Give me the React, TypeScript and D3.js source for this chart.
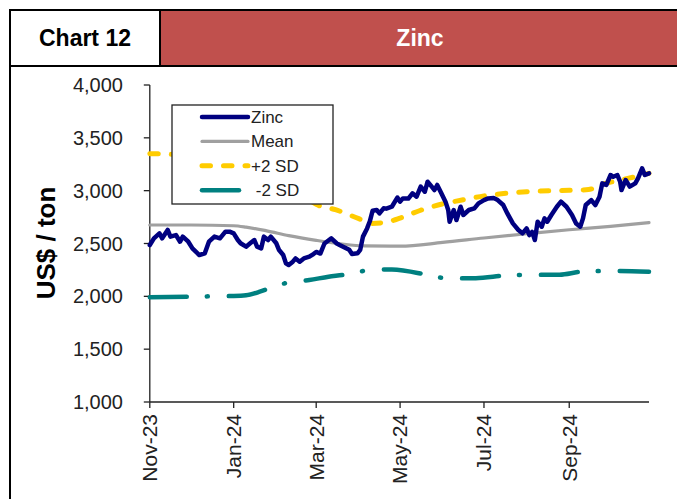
import React from "react";
import * as d3 from "d3";

const zincDates = [
  "2023-11-01","2023-11-04","2023-11-08","2023-11-10","2023-11-14","2023-11-16","2023-11-20","2023-11-23","2023-11-25","2023-11-29",
  "2023-12-02","2023-12-07","2023-12-11","2023-12-14","2023-12-18","2023-12-22","2023-12-26","2023-12-29",
  "2024-01-01","2024-01-04","2024-01-06","2024-01-10","2024-01-13","2024-01-16","2024-01-18","2024-01-21","2024-01-23","2024-01-26","2024-01-28",
  "2024-02-01","2024-02-03","2024-02-06","2024-02-08","2024-02-10","2024-02-13","2024-02-15","2024-02-18","2024-02-21","2024-02-25","2024-02-28",
  "2024-03-01","2024-03-04","2024-03-07","2024-03-12","2024-03-16","2024-03-18","2024-03-22","2024-03-25","2024-03-27","2024-03-31",
  "2024-04-02","2024-04-04","2024-04-07","2024-04-09","2024-04-11","2024-04-14","2024-04-16","2024-04-19","2024-04-21","2024-04-25","2024-04-29",
  "2024-05-01","2024-05-03","2024-05-07","2024-05-10","2024-05-13","2024-05-16","2024-05-19","2024-05-21","2024-05-24","2024-05-26","2024-05-28","2024-05-31",
  "2024-06-03","2024-06-05","2024-06-06","2024-06-09","2024-06-11","2024-06-14","2024-06-16","2024-06-20","2024-06-24","2024-06-27",
  "2024-07-01","2024-07-04","2024-07-08","2024-07-11","2024-07-15","2024-07-18","2024-07-22","2024-07-26","2024-07-29",
  "2024-08-01","2024-08-03","2024-08-05","2024-08-07","2024-08-09","2024-08-12","2024-08-14","2024-08-16","2024-08-19","2024-08-23","2024-08-26","2024-08-30",
  "2024-09-03","2024-09-06","2024-09-09","2024-09-11","2024-09-13","2024-09-17","2024-09-20","2024-09-23","2024-09-25","2024-09-28",
  "2024-10-01","2024-10-03","2024-10-06","2024-10-08","2024-10-09","2024-10-12","2024-10-15","2024-10-19","2024-10-21","2024-10-24","2024-10-26","2024-10-29",
];
const zincValues = [
  2486,2549,2596,2549,2628,2565,2580,2517,2565,2517,
  2454,2391,2407,2517,2565,2549,2612,2612,
  2596,2533,2502,2470,2502,2533,2470,2454,2565,2533,2565,
  2502,2438,2391,2312,2296,2328,2359,2328,2359,2375,2400,
  2420,2405,2500,2549,2500,2486,2460,2440,2400,2407,
  2440,2565,2643,2710,2810,2817,2785,2833,2830,2848,2935,
  2896,2927,2925,2975,2943,3038,2990,3085,3038,3006,3054,2975,
  2896,2817,2706,2817,2722,2848,2770,2817,2833,2880,
  2911,2927,2930,2911,2864,2785,2690,2628,2596,
  2643,2580,2610,2533,2706,2659,2738,2706,2770,2848,2896,2848,
  2770,2690,2659,2738,2864,2911,2864,2943,3069,3054,
  3148,3132,3148,3085,3006,3101,3038,3069,3117,3211,3148,3164,
];

const meanDates = ["2023-11-01","2023-12-01","2024-01-01","2024-01-10","2024-01-25","2024-02-10","2024-03-01","2024-03-20","2024-04-05","2024-05-01","2024-06-01","2024-07-01","2024-08-01","2024-09-01","2024-10-01","2024-10-29"];
const meanValues = [2675,2675,2668,2655,2620,2575,2530,2495,2478,2475,2510,2552,2592,2630,2662,2697];

const upperDates = ["2023-11-01","2023-11-15","2023-12-01","2024-01-01","2024-02-01","2024-02-20","2024-03-01","2024-03-15","2024-04-01","2024-04-10","2024-04-22","2024-05-01","2024-05-15","2024-06-01","2024-06-15","2024-07-01","2024-08-01","2024-09-01","2024-09-15","2024-09-25","2024-10-10","2024-10-29"];
const upperValues = [3350,3345,3330,3250,3100,2960,2870,2820,2735,2690,2705,2740,2810,2875,2911,2950,2990,3003,3010,3060,3105,3164];

const lowerDates = ["2023-11-01","2023-12-01","2023-12-15","2024-01-01","2024-01-10","2024-01-20","2024-01-27","2024-02-10","2024-02-25","2024-03-10","2024-03-20","2024-04-10","2024-04-25","2024-05-15","2024-05-25","2024-06-10","2024-06-25","2024-07-20","2024-08-10","2024-08-25","2024-09-10","2024-10-01","2024-10-29"];
const lowerValues = [1991,1997,2000,2003,2010,2044,2076,2132,2154,2186,2202,2249,2255,2218,2186,2170,2172,2200,2203,2205,2233,2240,2233];

const xTickDates = ["2023-11-01","2024-01-01","2024-03-01","2024-05-01","2024-07-01","2024-09-01"];
const xTickLabels = ["Nov-23","Jan-24","Mar-24","May-24","Jul-24","Sep-24"];
const yTicks = [1000,1500,2000,2500,3000,3500,4000];

const legendLabels = ["Zinc","Mean","+2 SD","\u00a0-2 SD"];

const parse = d3.timeParse("%Y-%m-%d");
const FONT = "'Liberation Sans', Arial, sans-serif";

function pts(dates: string[], values: number[]) {
  return dates.map((d, i) => ({ d: parse(d) as Date, v: values[i] })).filter((p) => p.v != null);
}

export default function App() {
  const W = 677, H = 499;
  const x = d3.scaleTime()
    .domain([parse("2023-11-01") as Date, parse("2024-10-29") as Date])
    .range([149.8, 649]);
  const y = d3.scaleLinear().domain([1000, 4000]).range([402, 85]);

  const line = d3.line<{ d: Date; v: number }>().x((p) => x(p.d)).y((p) => y(p.v));
  const smooth = d3.line<{ d: Date; v: number }>().x((p) => x(p.d)).y((p) => y(p.v)).curve(d3.curveMonotoneX);

  const series = [
    { name: "zinc", path: line(pts(zincDates, zincValues)), color: "#000080", width: 4.5, dash: undefined as string | undefined, cap: "round" },
    { name: "mean", path: smooth(pts(meanDates, meanValues)), color: "#A0A0A0", width: 3.2, dash: undefined, cap: "round" },
    { name: "upper", path: smooth(pts(upperDates, upperValues)), color: "#FFCC00", width: 5, dash: "8.5 13", cap: "round" },
    { name: "lower", path: smooth(pts(lowerDates, lowerValues)), color: "#008080", width: 4.5, dash: "37 20 1 21", cap: "round" },
  ];

  const legendStyles = [
    { color: "#000080", width: 4.5, dash: undefined as string | undefined },
    { color: "#A0A0A0", width: 3.2, dash: undefined },
    { color: "#FFCC00", width: 5, dash: "8.5 13" },
    { color: "#008080", width: 4.5, dash: "37 20 1 21" },
  ];

  const x0 = x.range()[0], x1 = x.range()[1];
  const yb = y(1000), yt = y(4000);

  return (
    <svg width={W} height={H} style={{ position: "absolute", left: 0, top: 0, background: "#fff" }} fontFamily={FONT}>
      {/* header */}
      <rect x={160} y={10} width={W - 160} height={56} fill="#C0504D" />
      <line x1={9} x2={W} y1={10} y2={10} stroke="#000" strokeWidth={2} />
      <line x1={9} x2={W} y1={66} y2={66} stroke="#000" strokeWidth={2} />
      <line x1={10} x2={10} y1={9} y2={H} stroke="#000" strokeWidth={2} />
      <line x1={160} x2={160} y1={10} y2={66} stroke="#000" strokeWidth={2} />
      <text x={85} y={46} textAnchor="middle" fontSize={23} fontWeight="bold" fill="#000">Chart 12</text>
      <text x={420} y={46} textAnchor="middle" fontSize={23} fontWeight="bold" fill="#fff">Zinc</text>

      {/* axes */}
      <line x1={x0} x2={x0} y1={yt} y2={yb} stroke="#222" strokeWidth={1.3} />
      <line x1={x0} x2={x1} y1={yb} y2={yb} stroke="#222" strokeWidth={1.3} />
      {yTicks.map((t) => (
        <g key={t}>
          <line x1={x0 - 6} x2={x0} y1={y(t)} y2={y(t)} stroke="#222" strokeWidth={1.3} />
          <text x={123} y={y(t)} dy="0.35em" textAnchor="end" fontSize={20} fill="#222">{d3.format(",")(t)}</text>
        </g>
      ))}
      {xTickDates.map((d, i) => {
        const px = x(parse(d) as Date);
        return (
          <g key={d}>
            <line x1={px} x2={px} y1={yb} y2={yb + 6} stroke="#222" strokeWidth={1.3} />
            <text transform={`translate(${px},${yb + 12}) rotate(-90)`} dy="0.35em" textAnchor="end" fontSize={21} fill="#222">{xTickLabels[i]}</text>
          </g>
        );
      })}
      <text transform={`translate(46,243) rotate(-90)`} dy="0.35em" textAnchor="middle" fontSize={26} fontWeight="bold" fill="#000">US$ / ton</text>

      {/* series */}
      {[...series].reverse().map((s) => (
        <path key={s.name} d={s.path || ""} fill="none" stroke={s.color} strokeWidth={s.width} strokeDasharray={s.dash} strokeLinecap={s.cap as any} strokeLinejoin="round" />
      ))}

      {/* legend */}
      <rect x={172} y={105} width={161} height={99} fill="#fff" stroke="#222" strokeWidth={1.3} />
      {legendLabels.map((lab, i) => {
        const ly = 117 + i * 24.4;
        const st = legendStyles[i];
        return (
          <g key={lab}>
            <line x1={202} x2={248} y1={ly} y2={ly} stroke={st.color} strokeWidth={st.width} strokeDasharray={st.dash} strokeLinecap="round" />
            <text x={251} y={ly} dy="0.35em" fontSize={17} fill="#222">{lab}</text>
          </g>
        );
      })}
    </svg>
  );
}
